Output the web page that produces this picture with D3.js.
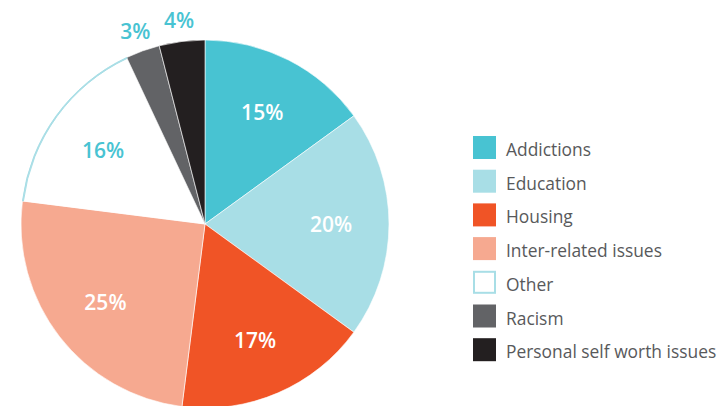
<!DOCTYPE html>
<html>
<head>
<meta charset="utf-8">
<script src="https://cdn.jsdelivr.net/npm/d3@7"></script>
<style>
  body { margin: 0; background: #fff; }
  svg { display: block; }
</style>
</head>
<body>
<div id="chart"></div>
<script>
// data
var categories = ["Addictions", "Education", "Housing", "Inter-related issues", "Other", "Racism", "Personal self worth issues"];
var values = [15, 20, 17, 25, 16, 3, 4];
var colors = ["#48C3D2", "#A8DEE6", "#F05426", "#F6A990", "#FFFFFF", "#626366", "#231F20"];
var labelColors = ["#fff", "#fff", "#fff", "#fff", "#48C3D2", "#48C3D2", "#48C3D2"];
var outside = [false, false, false, false, false, true, true];

var width = 720, height = 406;
var cx = 205, cy = 224, radius = 184;

var svg = d3.select("#chart")
    .append("svg")
    .attr("width", width)
    .attr("height", height);

var data = categories.map(function(c, i) {
    return { name: c, value: values[i], color: colors[i], lab: labelColors[i], out: outside[i] };
});

var pie = d3.pie()
    .sort(null)
    .value(function(d) { return d.value; });

var arc = d3.arc().innerRadius(0).outerRadius(radius);
var inLabel = d3.arc().innerRadius(126).outerRadius(126);
var outLabel = d3.arc().innerRadius(206).outerRadius(206);

var g = svg.append("g")
    .attr("transform", "translate(" + cx + "," + cy + ")");

var arcs = pie(data);

g.selectAll("path.slice")
    .data(arcs)
    .enter()
    .append("path")
    .attr("class", "slice")
    .attr("d", arc)
    .attr("fill", function(d) { return d.data.color; })
    .attr("stroke", "#fff")
    .attr("stroke-width", 0.6);

// outline on the arc of the white slice only
var other = arcs[4];
g.append("path")
    .attr("d", d3.arc().innerRadius(radius - 1).outerRadius(radius)({ startAngle: other.startAngle, endAngle: other.endAngle }))
    .attr("fill", "#A8DEE6")
    .attr("stroke", "#A8DEE6")
    .attr("stroke-width", 1);

g.selectAll("text.pct")
    .data(arcs)
    .enter()
    .append("text")
    .attr("class", "pct")
    .attr("transform", function(d) {
        var p = d.data.out ? outLabel.centroid(d) : inLabel.centroid(d);
        return "translate(" + p[0] + "," + p[1] + ")";
    })
    .attr("text-anchor", "middle")
    .attr("dy", "0.4em")
    .attr("font-family", "'Open Sans', sans-serif")
    .attr("font-weight", "600")
    .attr("font-size", "21px")
    .attr("fill", function(d) { return d.data.lab; })
    .text(function(d) { return d.data.value + "%"; });

// legend
var legend = svg.append("g")
    .attr("transform", "translate(473,136)");

var rows = legend.selectAll("g.row")
    .data(data)
    .enter()
    .append("g")
    .attr("class", "row")
    .attr("transform", function(d, i) { return "translate(0," + (i * 33.7) + ")"; });

rows.append("rect")
    .attr("x", function(d, i) { return i == 4 ? 1 : 0; })
    .attr("y", function(d, i) { return i == 4 ? 1 : 0; })
    .attr("width", function(d, i) { return i == 4 ? 21 : 23; })
    .attr("height", function(d, i) { return i == 4 ? 21 : 23; })
    .attr("fill", function(d) { return d.color; })
    .attr("stroke", function(d, i) { return i == 4 ? "#A8DEE6" : "none"; })
    .attr("stroke-width", 2);

rows.append("text")
    .attr("x", 33)
    .attr("y", 20)
    .attr("font-family", "'Open Sans', sans-serif")
    .attr("font-size", "17.4px")
    .attr("fill", "#58595B")
    .text(function(d) { return d.name; });
</script>
</body>
</html>
